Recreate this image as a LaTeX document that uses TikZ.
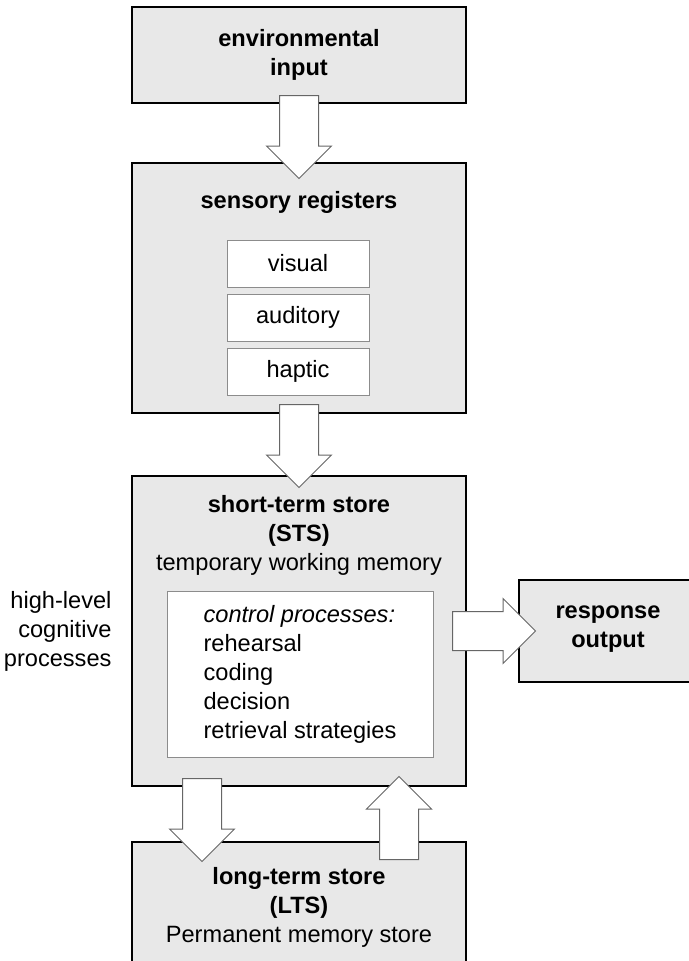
\documentclass[tikz,border=0pt]{standalone}
\usepackage{xcolor}
\usepackage{fontspec}
\setmainfont{Liberation Sans}
\usepackage{tikz}
\usetikzlibrary{shapes,arrows,positioning,calc}
\definecolor{boxgray}{HTML}{E8E8E8}
\definecolor{linegray}{HTML}{8C8C8C}
\newcommand{\blockarrow}[2]{\path let \p1=#1, \p2=#2, \n1={veclen(\x2-\x1,\y2-\y1)} in #1 -- #2 node[blockarrow,pos=0,anchor=tail,sloped,allow upside down,minimum height=\n1] {};}

\begin{document}
\begin{tikzpicture}[x=1pt,y=-1pt,node distance=6pt,font=\fontsize{23.6}{29}\selectfont,
  store/.style={draw=black,line width=2pt,fill=boxgray,minimum width=334,align=center},
  cell/.style={draw=linegray,line width=1pt,fill=white,minimum width=142,minimum height=47},
  blockarrow/.style={single arrow,draw=black!60,line width=1pt,fill=white,inner xsep=0pt,inner ysep=19pt,single arrow head extend=13pt,single arrow tip angle=90}]
\useasboundingbox (0,0) rectangle (688,961);
% stores
\node [store,minimum height=96] (env) at (299,55) {\textbf{environmental}\\\textbf{input}};
\node [store,minimum height=250] (sensory) at (299,288) {};
\node (sensorytitle) at (299,202) {\textbf{sensory registers}};
\node [cell] (visual) at (298,263.5) {visual};
\node [cell,below=of visual] (auditory) {auditory};
\node [cell,below=of auditory] (haptic) {haptic};
\node [store,minimum height=310] (sts) at (299,631) {};
\node [align=center] (ststitle) at (299,535.5) {\textbf{short-term store}\\\textbf{(STS)}\\temporary working memory};
\node [draw=linegray,line width=1pt,fill=white,minimum width=266,minimum height=166,align=left] (control) at (300,674) {\textit{control processes:}\\rehearsal\\coding\\decision\\retrieval strategies};
\node [store,minimum width=230,minimum height=102] (response) at (634,631) {};
\node [align=center] (responsetitle) at (608,629) {\textbf{response}\\\textbf{output}};
\node [store,minimum height=130] (lts) at (299,907) {\textbf{long-term store}\\\textbf{(LTS)}\\Permanent memory store};
\node [anchor=east,align=right] (highlevel) at (115,631) {high-level\\cognitive\\processes};
% block arrows
\blockarrow{([yshift=9pt]env.south)}{([yshift=-16pt]sensory.north)}
\blockarrow{([yshift=10pt]sensory.south)}{([yshift=-12pt]sts.north)}
\blockarrow{([xshift=-15pt]sts.east)}{([xshift=17pt]response.west)}
\blockarrow{([xshift=-97pt,yshift=9pt]sts.south)}{([xshift=-97pt,yshift=-20pt]lts.north)}
\blockarrow{([xshift=100pt,yshift=-19pt]lts.north)}{([xshift=100pt,yshift=10pt]sts.south)}
\end{tikzpicture}
\end{document}
